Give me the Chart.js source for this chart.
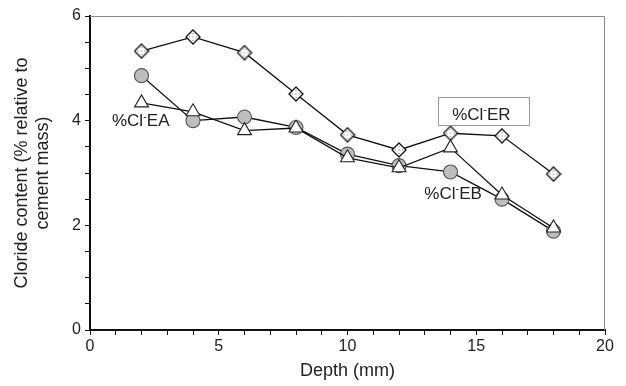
<!DOCTYPE html>
<html>
<head>
<meta charset="utf-8">
<script src="https://cdn.jsdelivr.net/npm/chart.js@4.4.1/dist/chart.umd.min.js"></script>
<style>
  html, body { margin: 0; padding: 0; background: #fff; }
  #wrap { width: 626px; height: 386px; }
</style>
</head>
<body>
<div id="wrap"><canvas id="grafico" width="626" height="386"></canvas></div>
<script>
// datos
const depth = [2, 4, 6, 8, 10, 12, 14, 16, 18];
const clER = [5.33, 5.60, 5.30, 4.51, 3.73, 3.44, 3.76, 3.71, 2.98];
const clEA = [4.34, 4.17, 3.81, 3.86, 3.29, 3.10, 3.48, 2.58, 1.95];
const clEB = [4.86, 4.00, 4.07, 3.87, 3.36, 3.14, 3.02, 2.50, 1.89];
const xLabels = [0, 5, 10, 15, 20];
const yLabels = [0, 2, 4, 6];
const yTitulo = ["Cloride content (% relative to", "cement mass)"];

const fuente = "'Liberation Sans', Arial, sans-serif";

// marcador rombo con relleno punteado
function hacerRombo() {
  const c = document.createElement("canvas");
  c.width = 16; c.height = 16;
  const g = c.getContext("2d");
  g.beginPath();
  g.moveTo(8, 1); g.lineTo(15, 8); g.lineTo(8, 15); g.lineTo(1, 8); g.closePath();
  g.fillStyle = "#fff"; g.fill();
  g.lineWidth = 1.3; g.strokeStyle = "#111"; g.stroke();
  g.fillStyle = "#666";
  [[8, 4.5], [11.5, 8], [8, 11.5], [4.5, 8], [8, 8]].forEach(p => {
    g.fillRect(p[0] - 0.5, p[1] - 0.5, 1, 1);
  });
  return c;
}
const rombo = hacerRombo();

function puntos(d) {
  return depth.map((x, i) => ({ x: x, y: d[i] }));
}

const textos = [
  { txt: "%Cl", sup: "-", fin: "EA", x: 1.97, y: 3.98, caja: false },
  { txt: "%Cl", sup: "-", fin: "EB", x: 14.1, y: 2.60, caja: false },
  { txt: "%Cl", sup: "-", fin: "ER", x: 15.2, y: 4.11, caja: true }
];

const etiquetas = {
  id: "etiquetas",
  beforeDatasetsDraw(chart) {
    const ctx = chart.ctx, a = chart.chartArea;
    ctx.save();
    ctx.strokeStyle = "#888";
    ctx.lineWidth = 1;
    ctx.beginPath();
    ctx.moveTo(a.left, a.top + 0.5); ctx.lineTo(a.right - 0.5, a.top + 0.5); ctx.lineTo(a.right - 0.5, a.bottom);
    ctx.stroke();
    // titulo del eje y, dos lineas
    ctx.fillStyle = "#222";
    ctx.font = "18px " + fuente;
    ctx.textAlign = "center";
    ctx.textBaseline = "middle";
    const cy = (a.top + a.bottom) / 2;
    ctx.translate(0, cy);
    ctx.rotate(-Math.PI / 2);
    ctx.fillText(yTitulo[0], 0, 22);
    ctx.fillText(yTitulo[1], 0, 43);
    ctx.restore();
  },
  afterDatasetsDraw(chart) {
    const ctx = chart.ctx;
    const xs = chart.scales.x, ys = chart.scales.y;
    ctx.save();
    textos.forEach(t => {
      const px = xs.getPixelForValue(t.x);
      const py = ys.getPixelForValue(t.y);
      ctx.font = "17px " + fuente;
      const w1 = ctx.measureText(t.txt).width;
      ctx.font = "11px " + fuente;
      const w2 = ctx.measureText(t.sup).width;
      ctx.font = "17px " + fuente;
      const w3 = ctx.measureText(t.fin).width;
      const w = w1 + w2 + w3;
      let x0 = px - w / 2;
      if (t.caja) {
        ctx.fillStyle = "#fff";
        ctx.fillRect(438, py - 18, 91, 28);
        ctx.strokeStyle = "#999";
        ctx.lineWidth = 1;
        ctx.strokeRect(438.5, Math.round(py - 18) + 0.5, 91, 28);
      }
      ctx.fillStyle = "#222";
      ctx.textBaseline = "middle";
      ctx.textAlign = "left";
      ctx.fillText(t.txt, x0, py);
      ctx.font = "11px " + fuente;
      ctx.fillText(t.sup, x0 + w1, py - 5);
      ctx.font = "17px " + fuente;
      ctx.fillText(t.fin, x0 + w1 + w2, py);
    });
    ctx.restore();
  }
};

const ctx = document.getElementById("grafico").getContext("2d");
const chart = new Chart(ctx, {
  type: "line",
  data: {
    datasets: [
      {
        label: "%Cl-EA",
        data: puntos(clEA),
        borderColor: "#111",
        borderWidth: 1.3,
        pointStyle: "triangle",
        pointRadius: 8,
        pointBackgroundColor: "#fff",
        pointBorderColor: "#222",
        pointBorderWidth: 1.1
      },
      {
        label: "%Cl-EB",
        data: puntos(clEB),
        borderColor: "#111",
        borderWidth: 1.3,
        pointStyle: "circle",
        pointRadius: 7,
        pointBackgroundColor: "#bdbdbd",
        pointBorderColor: "#555",
        pointBorderWidth: 1.1
      },
      {
        label: "%Cl-ER",
        data: puntos(clER),
        borderColor: "#111",
        borderWidth: 1.3,
        pointStyle: rombo
      }
    ]
  },
  options: {
    responsive: false,
    animation: false,
    layout: { padding: { top: 16, right: 21, left: 0, bottom: 0 } },
    plugins: {
      legend: { display: false },
      tooltip: { enabled: false }
    },
    scales: {
      x: {
        type: "linear",
        min: 0, max: 20,
        afterFit: s => { s.height = 56; },
        border: { color: "#111", width: 2 },
        grid: { drawOnChartArea: false, tickLength: 5, color: "#111", tickWidth: 1 },
        ticks: {
          stepSize: 1, autoSkip: false, maxRotation: 0,
          color: "#222", font: { family: fuente, size: 16 }, padding: 2,
          callback: v => xLabels.includes(v) ? String(v) : ""
        },
        title: {
          display: true, text: "Depth (mm)", color: "#222",
          font: { family: fuente, size: 18 }, padding: { top: 0 }
        }
      },
      y: {
        min: 0, max: 6,
        afterFit: s => { s.width = 90; },
        border: { color: "#111", width: 2 },
        grid: { drawOnChartArea: false, tickLength: 5, color: "#111", tickWidth: 1 },
        ticks: {
          stepSize: 0.5, autoSkip: false,
          color: "#222", font: { family: fuente, size: 16 }, padding: 4,
          callback: v => yLabels.includes(v) ? String(v) : ""
        }
      }
    }
  },
  plugins: [etiquetas]
});
</script>
</body>
</html>
